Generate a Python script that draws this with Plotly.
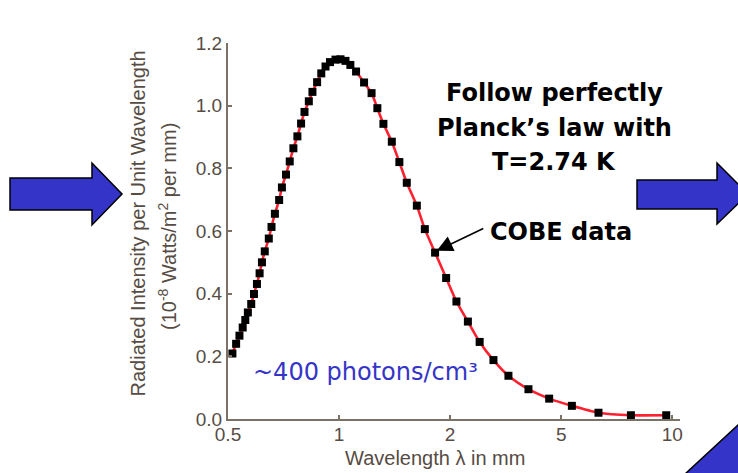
import numpy as np
import plotly.graph_objects as go

# ---- data ----
wavelength_mm = [0.514, 0.526, 0.537, 0.548, 0.557, 0.566, 0.578, 0.588, 0.599, 0.609,
                 0.618, 0.629, 0.645, 0.656, 0.670, 0.688, 0.700, 0.718, 0.735, 0.752,
                 0.771, 0.789, 0.806, 0.828, 0.847, 0.872, 0.895, 0.919, 0.945, 0.978,
                 1.009, 1.041, 1.073, 1.112, 1.169, 1.225, 1.270, 1.319, 1.390, 1.457,
                 1.526, 1.625, 1.708, 1.821, 1.951, 2.107, 2.316, 2.552, 2.860, 3.236,
                 3.817, 4.529, 5.346, 6.311, 7.727, 9.632]
intensity = [0.209, 0.240, 0.266, 0.292, 0.316, 0.340, 0.367, 0.399, 0.431, 0.465,
             0.500, 0.535, 0.576, 0.613, 0.655, 0.699, 0.739, 0.780, 0.822, 0.864,
             0.902, 0.943, 0.980, 1.014, 1.044, 1.075, 1.103, 1.125, 1.139, 1.147,
             1.148, 1.143, 1.130, 1.109, 1.074, 1.040, 0.992, 0.942, 0.885, 0.820,
             0.754, 0.681, 0.606, 0.531, 0.450, 0.375, 0.311, 0.246, 0.188, 0.138,
             0.095, 0.065, 0.042, 0.020, 0.012, 0.012]
x_tick_values = [0.5, 1, 2, 5, 10]
x_tick_labels = ["0.5", "1", "2", "5", "10"]
y_tick_values = [0.0, 0.2, 0.4, 0.6, 0.8, 1.0, 1.2]

# the original axis places its ticks 0.5,1,2,5,10 at equal spacing
tick_pos = list(range(len(x_tick_values)))
def axis_pos(lam):
    return np.interp(np.log10(lam), np.log10(x_tick_values), tick_pos)

xpos = axis_pos(np.array(wavelength_mm))
marker_ref = 43  # index of marker pointed to by "COBE data"

W, H = 738, 473
L, R, T, B = 228, 58, 43, 54
PW, PH = W - L - R, H - T - B
def px(x):
    return (x - L) / PW
def py(y):
    return (H - B - y) / PH
def path(points):
    s = "M " + " L ".join(f"{px(a):.4f},{py(b):.4f}" for a, b in points) + " Z"
    return s

AXC = "#7b7265"
TXC = "#564c44"
BLUE = "#3434c8"

fig = go.Figure()
fig.add_trace(go.Scatter(
    x=xpos, y=intensity, mode="lines+markers",
    line=dict(color="#ff2030", width=2.6, shape="spline", smoothing=0.6),
    marker=dict(symbol="square", size=8, color="black"),
    showlegend=False, hoverinfo="skip"))

fig.update_xaxes(range=[0, 4.07], tickvals=tick_pos, ticktext=x_tick_labels,
                 showline=True, linecolor=AXC, linewidth=2, ticks="inside",
                 ticklen=4, tickcolor=AXC, tickwidth=1.5, showgrid=False, zeroline=False,
                 ticklabelstandoff=-3,
                 tickfont=dict(family="Liberation Sans, Arial, sans-serif", size=19, color=TXC))
fig.update_yaxes(range=[0, 1.2], tickvals=y_tick_values, tickformat=".1f",
                 showline=True, linecolor=AXC, linewidth=2, ticks="inside",
                 ticklen=4, tickcolor=AXC, tickwidth=1.5, showgrid=False, zeroline=False,
                 tickfont=dict(family="Liberation Sans, Arial, sans-serif", size=19, color=TXC))

ann = []
def label(x, y, text, font, angle=0):
    ann.append(dict(x=px(x), y=py(y), xref="paper", yref="paper", showarrow=False,
                    xanchor="center", yanchor="middle", text=text, textangle=angle,
                    font=font))

AF = "Liberation Sans, Arial, sans-serif"
label(137.5, 224, "Radiated Intensity per Unit Wavelength", dict(family=AF, size=20, color=TXC), -90)
label(167, 227, "(10<sup>-8</sup> Watts/m<sup>2</sup> per mm)", dict(family=AF, size=20, color=TXC), -90)
label(435, 458, "Wavelength λ in mm", dict(family=AF, size=20, color=TXC))
BF = "DejaVu Sans, sans-serif"
for txt, yc in [("Follow perfectly", 93), ("Planck\u2019s law with", 128), ("T=2.74 K", 162)]:
    label(554, yc, f"<b>{txt}</b>", dict(family=BF, size=24, color="black"))
label(561, 232, "<b>COBE data</b>", dict(family=BF, size=24, color="black"))
label(365, 372, "~400 photons/cm\u00b3", dict(family=BF, size=24, color=BLUE))
ann.append(dict(x=xpos[marker_ref] + 0.015, y=intensity[marker_ref] + 0.006,
                xref="x", yref="y", text="", showarrow=True, ax=48, ay=-23,
                arrowhead=2, arrowsize=2.0, arrowwidth=1.6, arrowcolor="black"))

shapes = []
arrow_l = [(10, 178), (92, 178), (92, 163), (122, 194), (92, 225), (92, 210), (10, 210)]
arrow_r = [(637, 180), (717, 180), (717, 163), (748, 194), (717, 224), (717, 209), (637, 209)]
arrow_b = [(685, 474), (739, 424), (765, 450), (710, 500)]
for pts in (arrow_l, arrow_r, arrow_b):
    shapes.append(dict(type="path", xref="paper", yref="paper", path=path(pts),
                       fillcolor=BLUE, line=dict(color="black", width=1.5), layer="above"))

fig.update_layout(width=W, height=H, margin=dict(l=L, r=R, t=T, b=B, pad=0),
                  paper_bgcolor="white", plot_bgcolor="white",
                  annotations=ann, shapes=shapes)
fig.write_html("out.html")
